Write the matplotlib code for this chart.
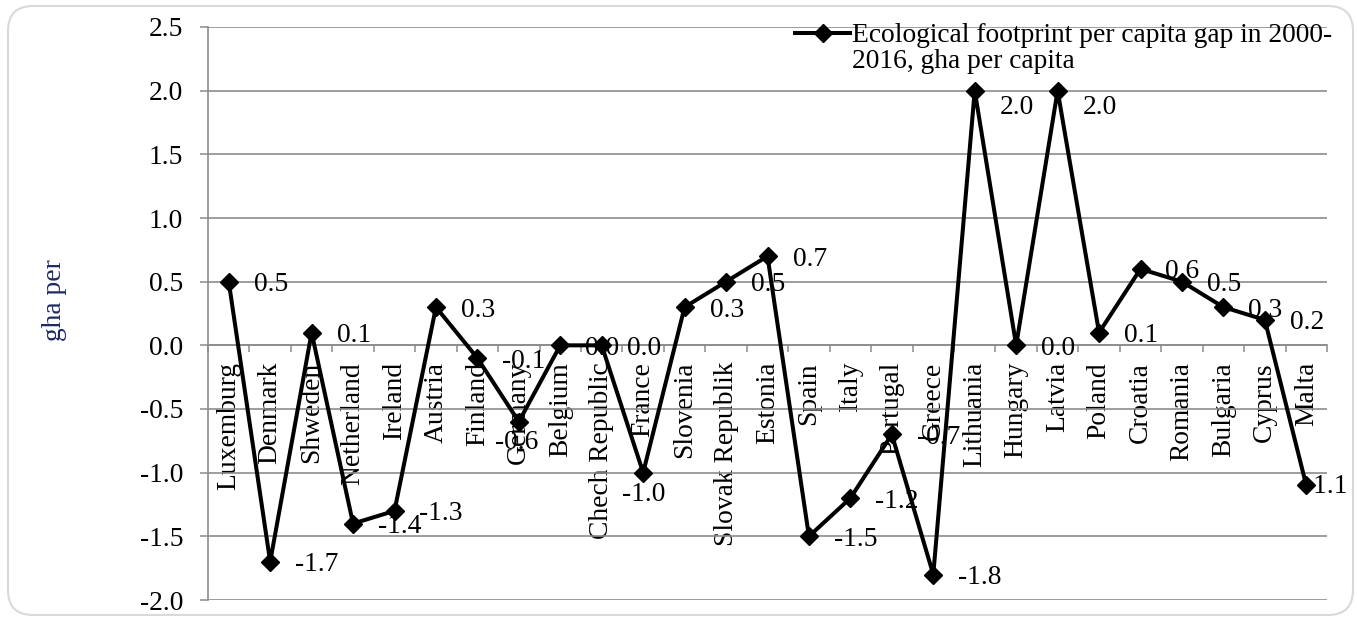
import matplotlib.pyplot as plt
import numpy as np
from matplotlib.lines import Line2D
from matplotlib.patches import FancyBboxPatch
from matplotlib.ticker import FormatStrFormatter

plt.rcParams['font.family'] = ['Liberation Serif', 'DejaVu Serif']
plt.rcParams['font.size'] = 19.8
plt.rcParams['axes.unicode_minus'] = False

countries = ['Luxemburg', 'Denmark', 'Shweden', 'Netherland', 'Ireland', 'Austria',
             'Finland', 'Germany', 'Belgium', 'Chech Republic', 'France', 'Slovenia',
             'Slovak Republik', 'Estonia', 'Spain', 'Italy', 'Portugal', 'Greece',
             'Lithuania', 'Hungary', 'Latvia', 'Poland', 'Croatia', 'Romania',
             'Bulgaria', 'Cyprus', 'Malta']
gap = [0.5, -1.7, 0.1, -1.4, -1.3, 0.3, -0.1, -0.6, 0.0, 0.0, -1.0, 0.3, 0.5, 0.7,
       -1.5, -1.2, -0.7, -1.8, 2.0, 0.0, 2.0, 0.1, 0.6, 0.5, 0.3, 0.2, -1.1]
series_label = ['Ecological footprint per capita gap in 2000-', '2016, gha per capita']
y_title = 'gha per'

grid_col = '#8c8c8c'

fig = plt.figure(figsize=(13.57, 6.18), dpi=100)
ax = fig.add_axes([208 / 1357, 1 - 600 / 618, (1327 - 208) / 1357, 573 / 618])

# rounded chart border
border = FancyBboxPatch((0.08, 0.03), 13.45, 6.09, boxstyle='round,pad=0,rounding_size=0.25',
                        transform=fig.dpi_scale_trans, ec='#d9d9d9', fc='none', lw=1.5)
fig.patches.append(border)

x = np.arange(len(countries))
ax.plot(x, gap, color='black', lw=2.9, marker='D', ms=9.5, zorder=3, clip_on=False)

ax.set_xlim(-0.5, len(countries) - 0.5)
ax.set_ylim(-2.0, 2.5)
ax.set_yticks(np.arange(-2.0, 2.51, 0.5))
ax.yaxis.set_major_formatter(FormatStrFormatter('%.1f'))
ax.grid(axis='y', color=grid_col, lw=1.2)
ax.set_axisbelow(True)

for s in ['top', 'right']:
    ax.spines[s].set_visible(False)
ax.spines['left'].set_color(grid_col)
ax.spines['left'].set_linewidth(1.2)
ax.spines['bottom'].set_position(('data', 0))
ax.spines['bottom'].set_color(grid_col)
ax.spines['bottom'].set_linewidth(1.2)

ax.set_xticks(x)
ax.set_xticklabels(countries, rotation=90, va='top', ha='center')
ax.set_xticks(np.arange(-0.5, len(countries), 1), minor=True)
ax.tick_params(axis='x', which='major', length=0, pad=12)
ax.tick_params(axis='x', which='minor', length=5, width=1.1, color=grid_col, direction='out')
ax.tick_params(axis='y', length=5.8, width=1.1, color=grid_col, pad=12)

ax.set_ylabel(y_title, color='#1f2a60', va='center')
ax.yaxis.set_label_coords(-0.1376, 0.5236)

# data labels, mostly to the right of each point
label_shift = {7: (-17, -15), 10: (-15, -16), 18: (18, -12), 20: (18, -12), 26: (-1.5, -1)}
for i, v in enumerate(gap):
    dx, dy = label_shift.get(i, (18, -2.2))
    ax.annotate('{:.1f}'.format(v), xy=(i, v), xytext=(dx, dy), textcoords='offset points',
                ha='left', va='center', zorder=4, annotation_clip=False)

handles = [Line2D([], [], color='black', lw=2.9, marker='D', ms=9.5), Line2D([], [], lw=0)]
ax.legend(handles, series_label, loc='upper left', bbox_to_anchor=(795 / 1357, 1 - 23 / 618),
          bbox_transform=fig.transFigure, frameon=False, borderpad=0, borderaxespad=0,
          handlelength=2.0, handletextpad=0.07, labelspacing=0.02)

fig.savefig('out.png', dpi=100)
